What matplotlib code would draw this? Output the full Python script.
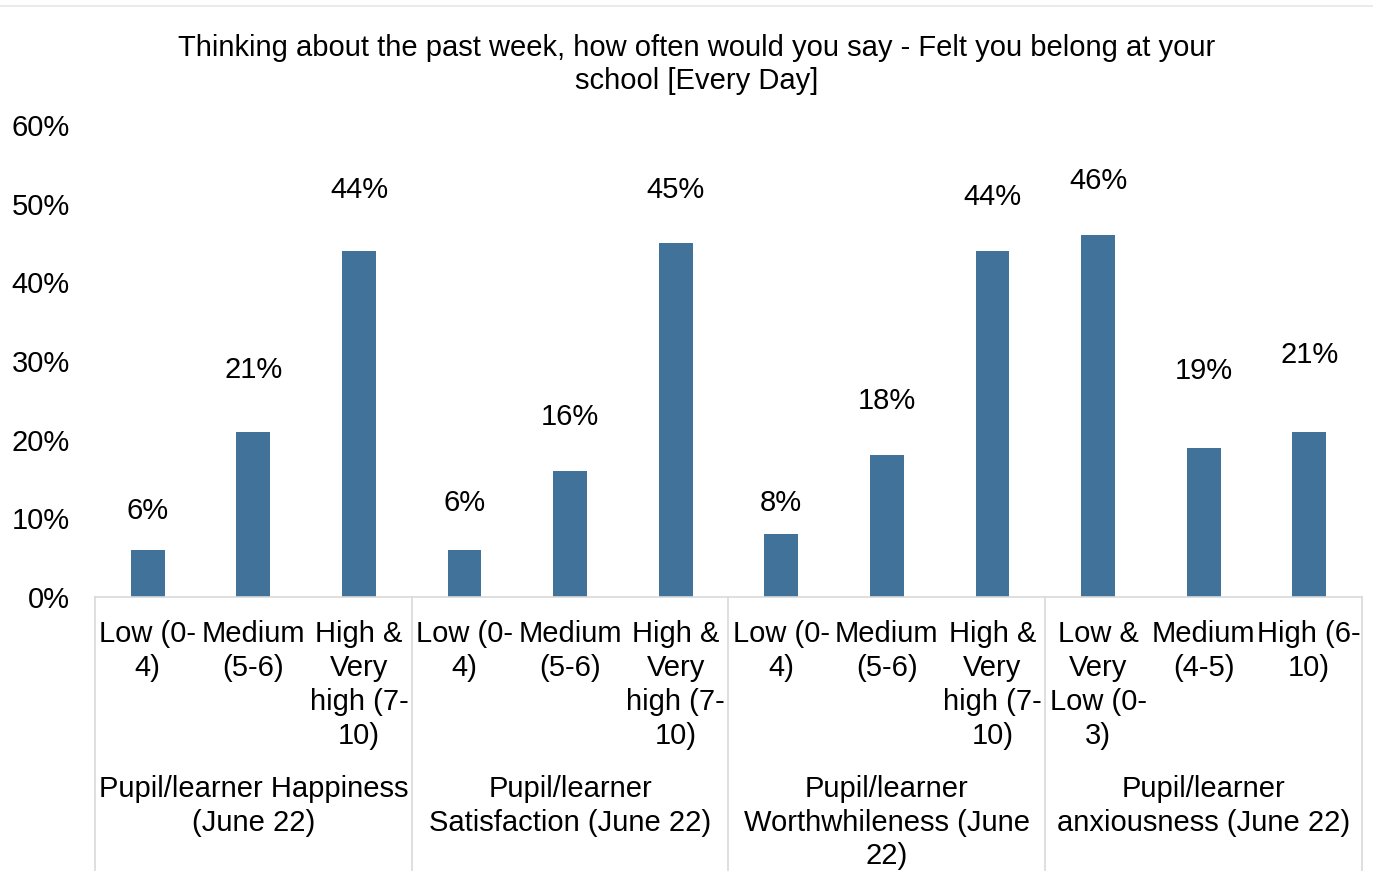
import matplotlib
matplotlib.use("Agg")
import matplotlib.pyplot as plt
from matplotlib.transforms import blended_transform_factory
from matplotlib.lines import Line2D

plt.rcParams['font.family'] = ['Liberation Sans', 'DejaVu Sans']

title = "Thinking about the past week, how often would you say - Felt you belong at your\nschool [Every Day]"
categories = [
    "Low (0-\n4)", "Medium\n(5-6)", "High &\nVery\nhigh (7-\n10)",
    "Low (0-\n4)", "Medium\n(5-6)", "High &\nVery\nhigh (7-\n10)",
    "Low (0-\n4)", "Medium\n(5-6)", "High &\nVery\nhigh (7-\n10)",
    "Low &\nVery\nLow (0-\n3)", "Medium\n(4-5)", "High (6-\n10)",
]
groups = [
    "Pupil/learner Happiness\n(June 22)",
    "Pupil/learner\nSatisfaction (June 22)",
    "Pupil/learner\nWorthwhileness (June\n22)",
    "Pupil/learner\nanxiousness (June 22)",
]
values = [6, 21, 44, 6, 16, 45, 8, 18, 44, 46, 19, 21]
yticks = [0, 10, 20, 30, 40, 50, 60]

# label offsets (percentage points above bar) - styling
label_offsets = [4.9, 7.8, 7.8, 5.9, 6.9, 6.8, 3.9, 6.9, 6.8, 6.9, 9.7, 9.7]

FS = 21
W, H = 1373, 871
fig = plt.figure(figsize=(W / 100, H / 100), dpi=100)
ax = fig.add_axes([95 / W, 1 - 597 / H, (1362 - 95) / W, (597 - 125) / H])

bar_color = "#41729a"
x = list(range(len(values)))
ax.bar(x, values, width=0.32, color=bar_color, zorder=2)
ax.set_xlim(-0.5, len(values) - 0.5)
ax.set_ylim(0, 60)
ax.set_yticks(yticks)
ax.set_yticklabels([f"{t}%" for t in yticks], fontsize=FS)
ax.tick_params(axis='y', length=0, pad=18)
ax.set_xticks([])
for s in ['top', 'right', 'left']:
    ax.spines[s].set_visible(False)
ax.spines['bottom'].set_color('#d9d9d9')
ax.spines['bottom'].set_linewidth(1.2)

for xi, v, off in zip(x, values, label_offsets):
    ax.text(xi, v + off, f"{v}%", ha='center', va='center', fontsize=FS)

tr = blended_transform_factory(ax.transData, fig.transFigure)
for xi, c in zip(x, categories):
    ax.text(xi, 1 - 620 / H, c, transform=tr, ha='center', va='top',
            fontsize=FS, linespacing=1.27)
for gi, g in enumerate(groups):
    ax.text(gi * 3 + 1, 1 - 775 / H, g, transform=tr, ha='center', va='top',
            fontsize=FS, linespacing=1.26)

for b in [-0.5, 2.5, 5.5, 8.5, 11.5]:
    fig.add_artist(Line2D([b, b], [1 - 597 / H, 0], transform=tr,
                          color='#d9d9d9', lw=1.2, clip_on=False))

# top chart border line
fig.add_artist(Line2D([0, 1], [1 - 6 / H, 1 - 6 / H], transform=fig.transFigure,
                      color='#e6e6e6', lw=1.2))

fig.text(697 / W, 1 - 34 / H, title, ha='center', va='top', fontsize=FS,
         linespacing=1.22)

fig.savefig("out.png", dpi=100)
